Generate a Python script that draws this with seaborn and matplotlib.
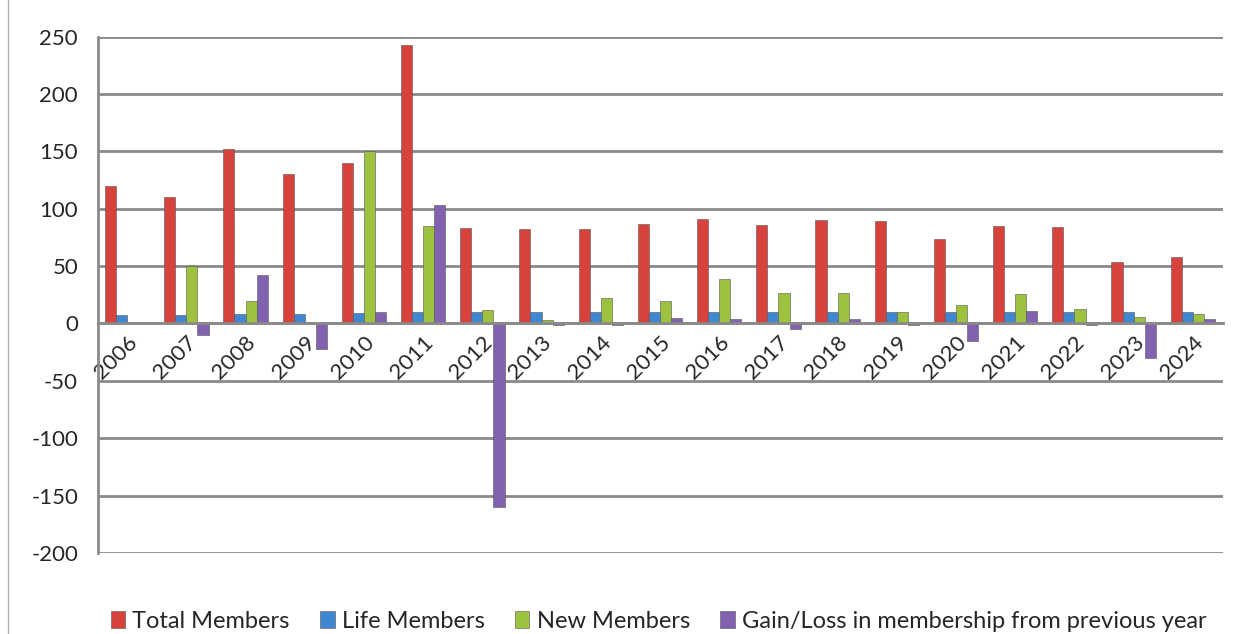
import numpy as np
import pandas as pd
import matplotlib
matplotlib.use("Agg")
import matplotlib.pyplot as plt
from matplotlib.lines import Line2D
import seaborn as sns

years = [str(y) for y in range(2006, 2025)]
total_members = [120, 110, 152, 130, 140, 243, 83, 82, 82, 87, 91, 86, 90, 89, 74, 85, 84, 54, 58]
life_members = [7, 7, 8, 8, 9, 10, 10, 10, 10, 10, 10, 10, 10, 10, 10, 10, 10, 10, 10]
new_members = [0, 50, 20, 1, 150, 85, 12, 3, 22, 20, 39, 27, 27, 10, 16, 26, 13, 6, 8]
gain_loss = [0, -10, 42, -22, 10, 103, -160, -1, -1, 5, 4, -5, 4, -1, -15, 11, -1, -30, 4]
series_names = ["Total Members", "Life Members", "New Members",
                "Gain/Loss in membership from previous year"]
colors = ["#D8423C", "#3F87D2", "#9CC23F", "#8062B0"]

frames = []
for name, vals in zip(series_names, [total_members, life_members, new_members, gain_loss]):
    frames.append(pd.DataFrame({"year": years, "series": name, "value": vals}))
df = pd.concat(frames, ignore_index=True)

sns.set_style("white")
plt.rcParams["font.family"] = ["Lato", "DejaVu Sans"]
plt.rcParams["axes.unicode_minus"] = False

fig, ax = plt.subplots(figsize=(12.5, 6.34), dpi=100)
fig.subplots_adjust(left=0.078, right=0.978, top=0.942, bottom=0.128)

sns.barplot(data=df, x="year", y="value", hue="series", palette=colors,
            width=0.75, saturation=1, edgecolor="#555555", linewidth=0.4, ax=ax)

ax.set_ylim(-200, 250)
ax.set_xlim(-0.5, 18.5)
ax.set_yticks(range(-200, 251, 50))
ax.grid(axis="y", color="#8a8a8a", linewidth=2)
ax.set_axisbelow(True)
ax.set_xlabel("")
ax.set_ylabel("")

for s in ["top", "right"]:
    ax.spines[s].set_visible(False)
ax.spines["bottom"].set_position(("data", 0))
ax.spines["bottom"].set_color("#8a8a8a")
ax.spines["bottom"].set_linewidth(2)
ax.spines["left"].set_color("#8a8a8a")
ax.spines["left"].set_linewidth(2)

ax.tick_params(axis="y", labelsize=16, length=6, color="#8a8a8a", width=1.5, pad=8)
ax.tick_params(axis="x", which="major", length=0, labelsize=16, pad=6)
ax.set_xticks(np.arange(-0.5, 19, 1), minor=True)
ax.tick_params(axis="x", which="minor", length=7, color="#8a8a8a", width=1.5)
for lbl in ax.get_xticklabels():
    lbl.set_rotation(45)
    lbl.set_ha("right")
    lbl.set_va("top")
    lbl.set_rotation_mode("anchor")

handles, labels = ax.get_legend_handles_labels()
ax.get_legend().remove()
fig.legend(handles, labels, loc="lower center", bbox_to_anchor=(0.527, -0.03), ncol=4,
           frameon=False, fontsize=17, handlelength=0.6, handleheight=0.7,
           handletextpad=0.3, columnspacing=1.3)

fig.add_artist(Line2D([0.0065, 0.0065], [0, 1], transform=fig.transFigure,
                      color="#b0b0b0", linewidth=1))

fig.savefig("out.png", dpi=100)
